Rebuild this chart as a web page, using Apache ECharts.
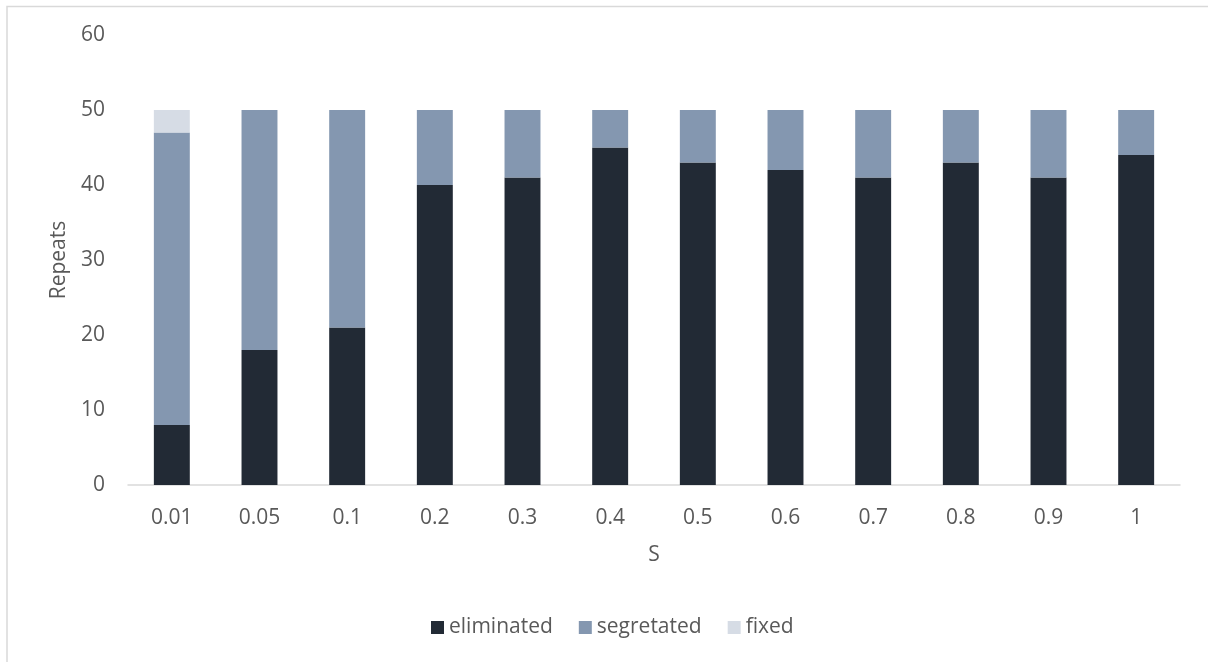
<!DOCTYPE html>
<html><head><meta charset="utf-8">
<script src="https://cdn.jsdelivr.net/npm/echarts@6/dist/echarts.min.js"></script>
<style>html,body{margin:0;padding:0;background:#fff;}#c{width:1208px;height:662px;}</style>
</head><body><div id="c"></div>
<script>
const categories = ['0.01','0.05','0.1','0.2','0.3','0.4','0.5','0.6','0.7','0.8','0.9','1'];
const eliminated = [8,18,21,40,41,45,43,42,41,43,41,44];
const segregated = [39,32,29,10,9,5,7,8,9,7,9,6];
const fixed = [3,0,0,0,0,0,0,0,0,0,0,0];
const yTicks = [0,10,20,30,40,50,60];

const font = '"Open Sans", "Noto Sans", sans-serif';
const chart = echarts.init(document.getElementById('c'));
chart.setOption({
  animation: false,
  textStyle: {fontFamily: font},
  graphic: [{type:'rect', shape:{x:7,y:6.5,width:1230,height:700}, style:{fill:'none',stroke:'#d9d9d9',lineWidth:1.5}, silent:true}],
  grid: {left:128, right:28, top:35, bottom:177},
  legend: {
    bottom: 19, left: 426, itemWidth: 13, itemHeight: 13, itemGap: 26,
    icon: 'rect',
    textStyle: {fontSize: 21, color: '#595959', fontFamily: font},
    data: ['eliminated','segretated','fixed']
  },
  xAxis: {
    type: 'category', data: categories,
    name: 'S', nameLocation: 'middle', nameGap: 60,
    nameTextStyle: {fontSize: 21, color: '#595959'},
    axisLine: {lineStyle: {color: '#d9d9d9', width: 1.5}},
    axisTick: {show: false},
    axisLabel: {fontSize: 21, color: '#595959', margin: 23}
  },
  yAxis: {
    type: 'value', min: yTicks[0], max: yTicks[yTicks.length-1], interval: 10,
    name: 'Repeats', nameLocation: 'middle', nameGap: 58, nameRotate: 90,
    nameTextStyle: {fontSize: 21, color: '#595959'},
    axisLine: {show: false}, axisTick: {show: false},
    splitLine: {show: false},
    axisLabel: {fontSize: 21, color: '#595959', margin: 23}
  },
  series: [
    {name:'eliminated', type:'bar', stack:'a', data: eliminated, barWidth: '41%', itemStyle:{color:'#222a35'}},
    {name:'segretated', type:'bar', stack:'a', data: segregated, itemStyle:{color:'#8497b0'}},
    {name:'fixed', type:'bar', stack:'a', data: fixed, itemStyle:{color:'#d6dce5'}}
  ]
});
</script></body></html>
